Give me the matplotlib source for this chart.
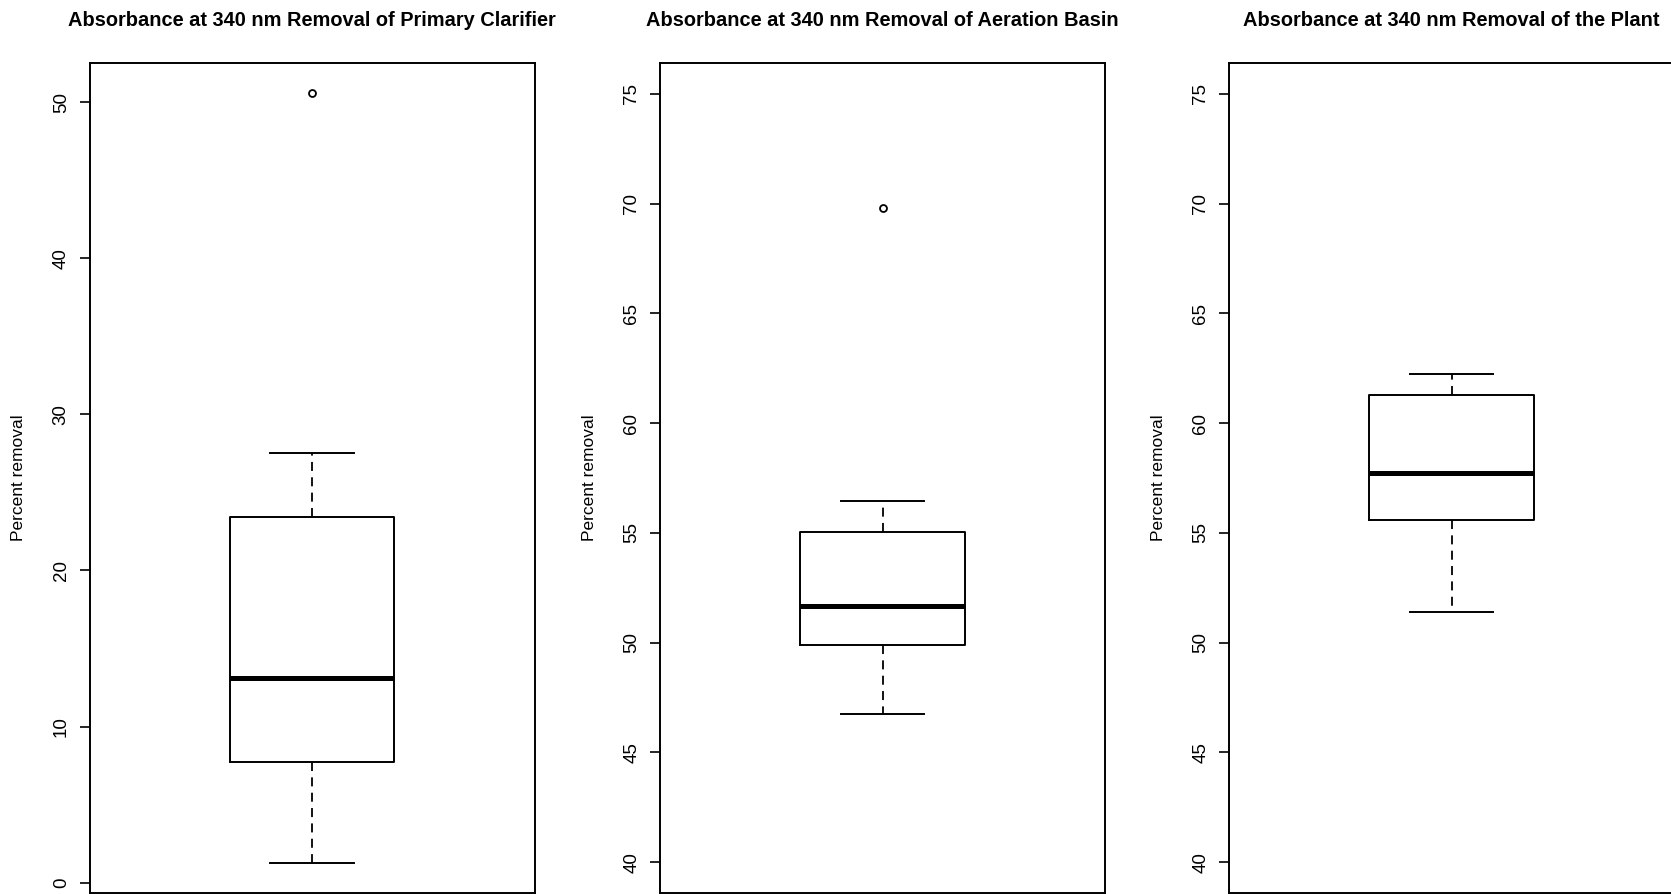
import matplotlib
matplotlib.use("Agg")
import matplotlib.pyplot as plt

plt.rcParams['font.family'] = ['Liberation Sans', 'DejaVu Sans']

titles = ["Absorbance at 340 nm Removal of Primary Clarifier",
          "Absorbance at 340 nm Removal of Aeration Basin",
          "Absorbance at 340 nm Removal of the Plant"]
ylabel = "Percent removal"

# box statistics
whislo = [1.25, 46.73, 51.39]
q1 = [7.7, 49.89, 55.61]
med = [13.1, 51.68, 57.74]
q3 = [23.45, 55.03, 61.28]
whishi = [27.5, 56.43, 62.25]
fliers = [[50.55], [69.78], []]

ylims = [(-0.66, 52.5), (38.6, 76.4), (38.6, 76.4)]
yticks = [[0, 10, 20, 30, 40, 50],
          [40, 45, 50, 55, 60, 65, 70, 75],
          [40, 45, 50, 55, 60, 65, 70, 75]]

W, H = 1671, 894
fig = plt.figure(figsize=(W / 100, H / 100), dpi=100)

lefts = [89.5, 660, 1229]
aw = 445
top = 63
bot = 893

for i in range(3):
    ax = fig.add_axes([lefts[i] / W, (H - bot) / H, aw / W, (bot - top) / H])
    stats = [dict(med=med[i], q1=q1[i], q3=q3[i], whislo=whislo[i],
                  whishi=whishi[i], fliers=fliers[i])]
    ax.bxp(stats, positions=[1], widths=[0.37], capwidths=[0.187],
           boxprops=dict(color='black', linewidth=1.4),
           medianprops=dict(color='black', linewidth=3.6, solid_capstyle='butt'),
           whiskerprops=dict(color='black', linewidth=1.3, linestyle=(0, (5, 3.5))),
           capprops=dict(color='black', linewidth=1.4),
           flierprops=dict(marker='o', markerfacecolor='none', markeredgecolor='black',
                           markersize=5, markeredgewidth=1.3))
    ax.set_xlim(0.5, 1.5)
    ax.set_ylim(*ylims[i])
    ax.set_yticks(yticks[i])
    ax.set_yticklabels([str(t) for t in yticks[i]], rotation=90, va='center')
    ax.set_xticks([])
    ax.tick_params(axis='y', direction='out', length=7.2, width=1.2, pad=7,
                   labelsize=13.5, colors='black')
    for s in ax.spines.values():
        s.set_linewidth(1.4)
        s.set_color('black')
    cx = (lefts[i] + aw / 2) / W
    fig.text(cx, 1 - 20 / H, titles[i], ha='center', va='center',
             fontsize=14.4, fontweight='bold')
    fig.text((lefts[i] - 70.5) / W, 1 - ((top + bot) / 2) / H, ylabel,
             rotation=90, ha='center', va='center', fontsize=12.5)

fig.savefig("out.png", dpi=100)
